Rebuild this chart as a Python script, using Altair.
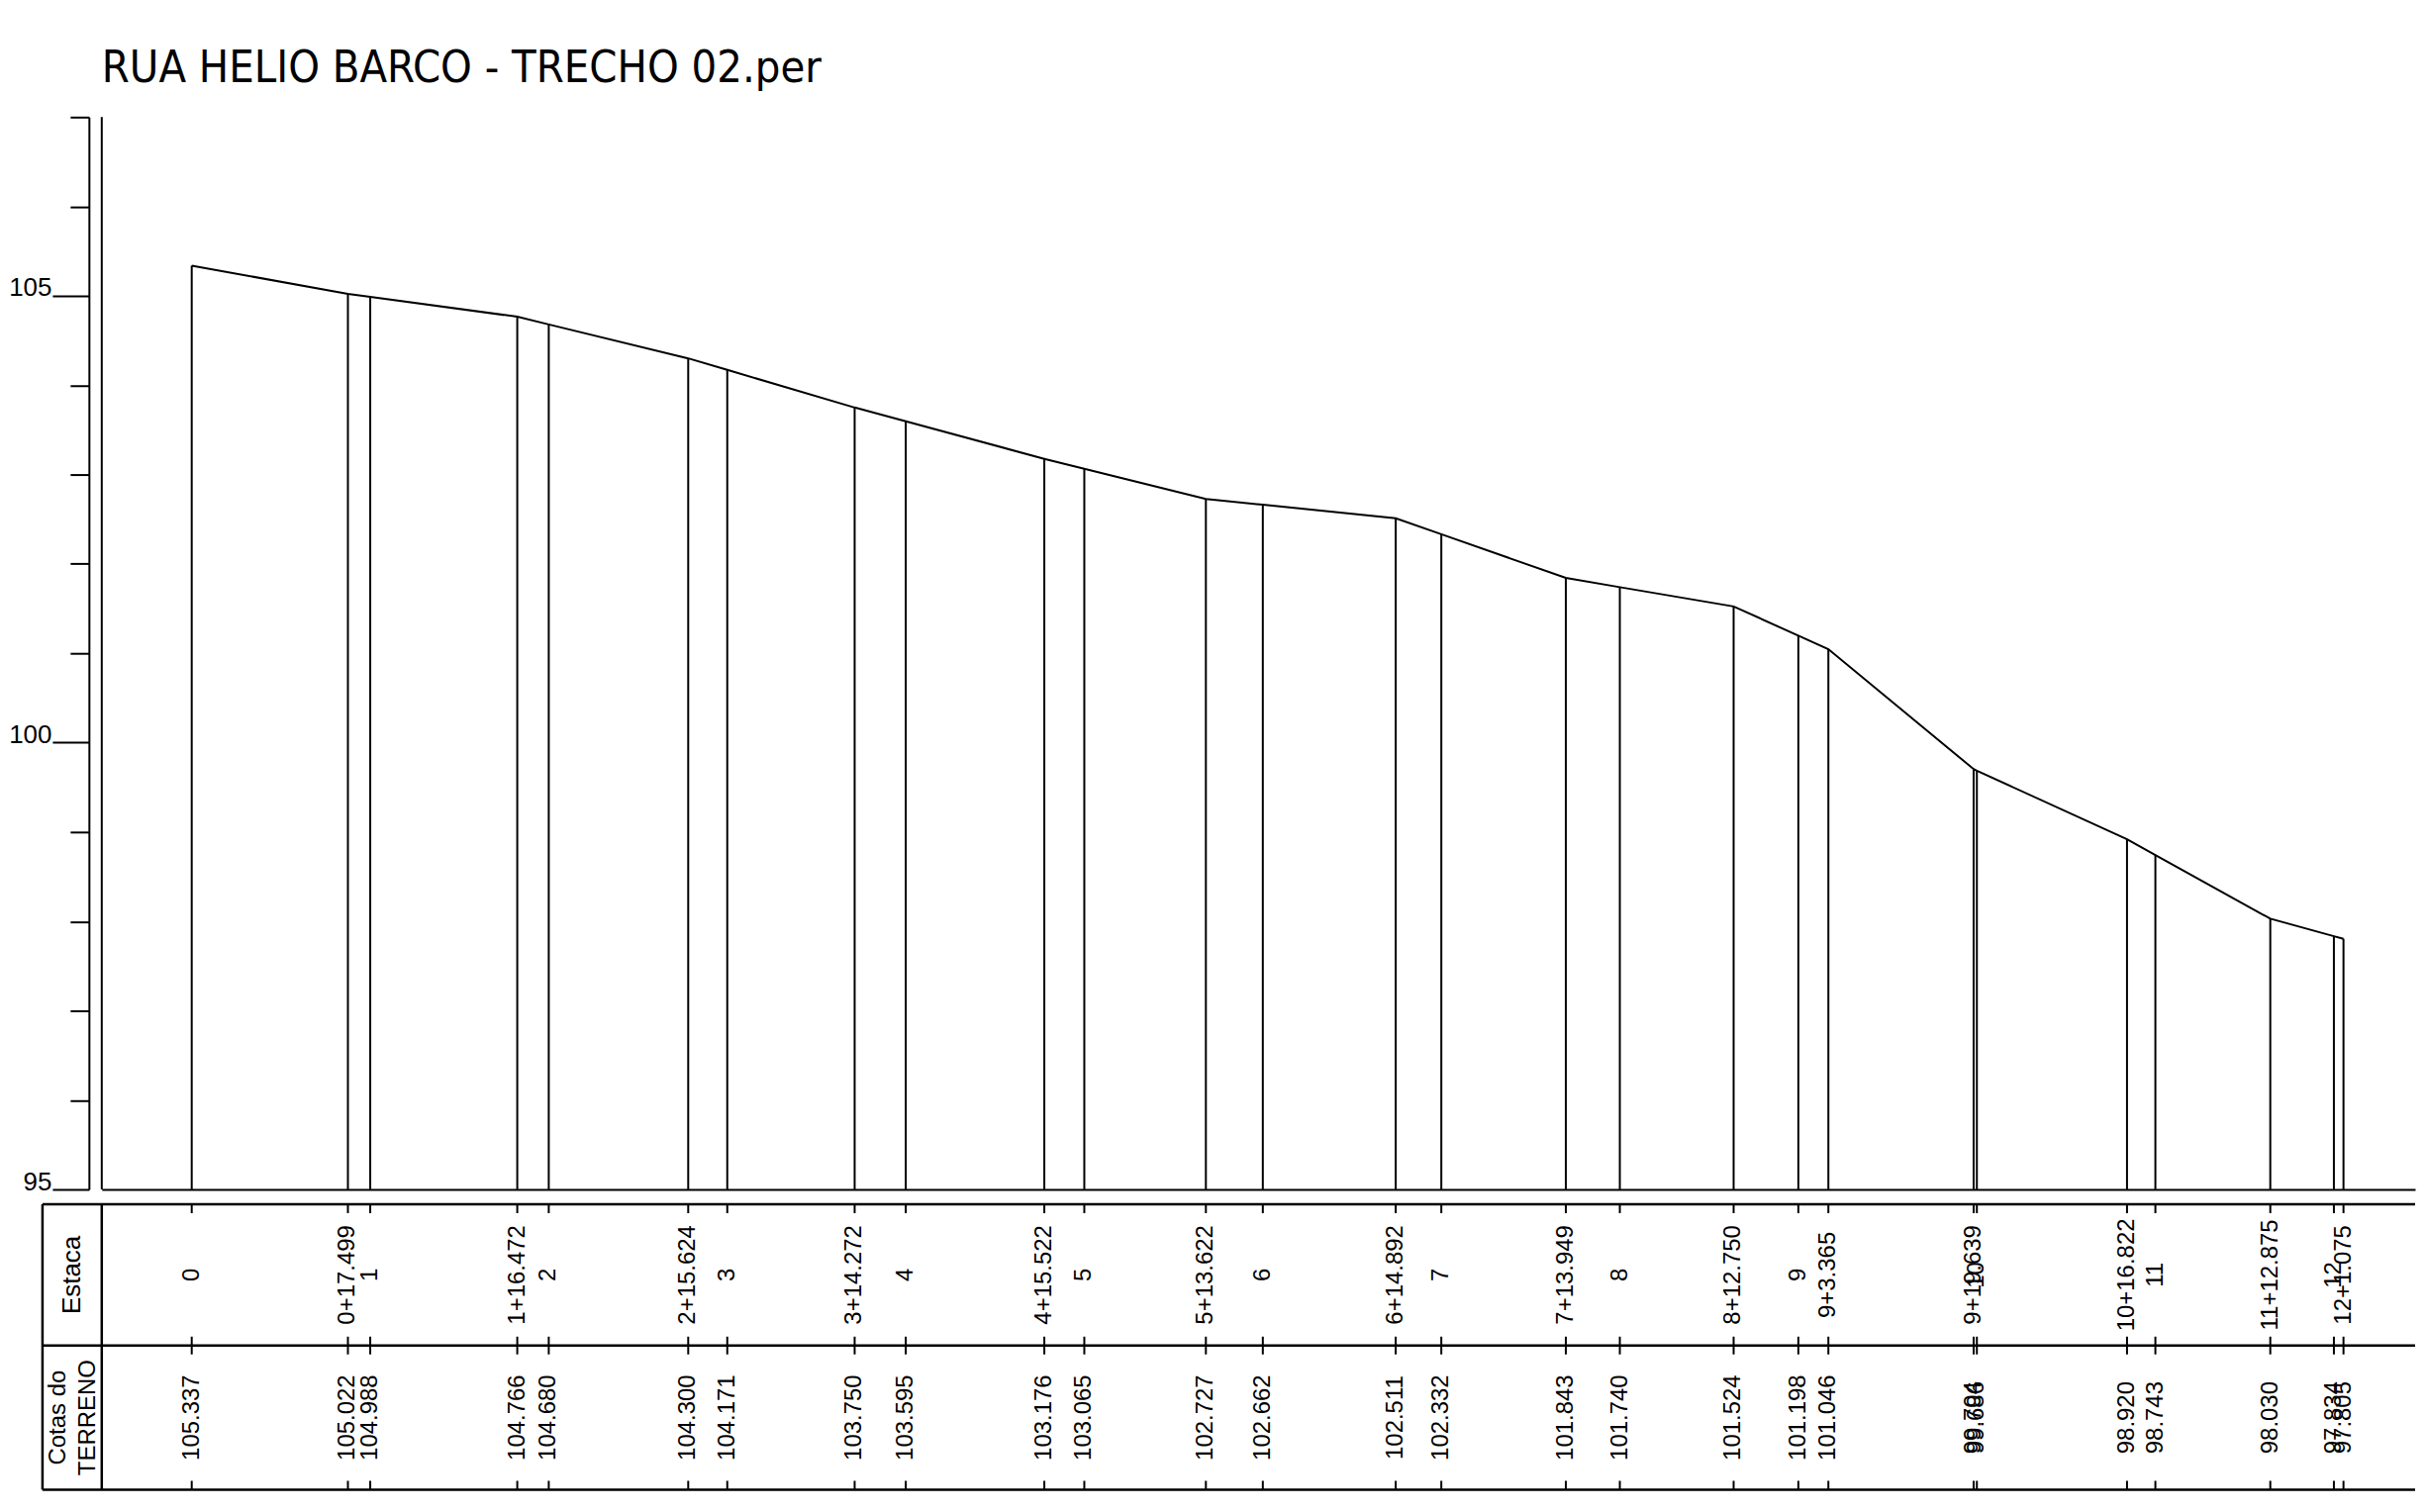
import altair as alt
import pandas as pd

# ---- data ----
estaca = ["0", "0+17.499", "1", "1+16.472", "2", "2+15.624", "3", "3+14.272", "4",
          "4+15.522", "5", "5+13.622", "6", "6+14.892", "7", "7+13.949", "8",
          "8+12.750", "9", "9+3.365", "9+19.639", "10", "10+16.822", "11",
          "11+12.875", "12", "12+1.075"]
dist = [0, 17.499, 20, 36.472, 40, 55.624, 60, 74.272, 80,
        95.522, 100, 113.622, 120, 134.892, 140, 153.949, 160,
        172.750, 180, 183.365, 199.639, 200, 216.822, 220,
        232.875, 240, 241.075]
cota = [105.337, 105.022, 104.988, 104.766, 104.680, 104.300, 104.171, 103.750, 103.595,
        103.176, 103.065, 102.727, 102.662, 102.511, 102.332, 101.843, 101.740,
        101.524, 101.198, 101.046, 99.704, 99.686, 98.920, 98.743,
        98.030, 97.834, 97.805]
y_ticks = list(range(95, 108))
title_text = "RUA HELIO BARCO - TRECHO 02.per"
row_headers = ["Estaca", ["Cotas do", "TERRENO"]]

df = pd.DataFrame({
    "dist": dist,
    "cota": cota,
    "estaca": estaca,
    "cota_txt": [f"{v:.3f}" for v in cota],
})

W, H = 2342, 1086
TITLE_FONT = "DejaVu Sans Condensed, Liberation Sans, sans-serif"
TXT = "Liberation Sans, Arial, sans-serif"

# table layout (pixels relative to plot area)
T_TOP, T_MID, T_BOT = 1101, 1244, 1390
T_LEFT = -60
TICK = 9

x_enc = alt.X("dist:Q",
              scale=alt.Scale(domain=[-10.08, 249.1], nice=False, zero=False),
              axis=alt.Axis(title=None, ticks=False, labels=False, grid=False,
                            domainColor="black", domainWidth=2))
y_enc = alt.Y("cota:Q",
              scale=alt.Scale(domain=[95, 107], nice=False, zero=False),
              axis=alt.Axis(title=None, values=y_ticks, grid=False, offset=13,
                            domainColor="black", domainWidth=2,
                            tickColor="black", tickWidth=2,
                            tickSize={"condition": {"test": "datum.value % 5 === 0", "value": 37},
                                      "value": 19},
                            labelExpr="datum.value % 5 === 0 ? format(datum.value, 'd') : ''",
                            labelFont=TXT, labelFontSize=26, labelColor="black",
                            labelBaseline="alphabetic", labelAlign="right",
                            labelPadding=1, labelOverlap=False))

base = alt.Chart(df)
one = alt.Data(values=[{}])

verticals = base.mark_rule(color="black", strokeWidth=2).encode(
    x=x_enc, y=y_enc, y2=alt.datum(95))
profile = base.mark_line(color="black", strokeWidth=2).encode(x=x_enc, y=y_enc)

frame_left = alt.Chart(one).mark_rule(color="black", strokeWidth=2).encode(
    x=alt.datum(-10.08), y=alt.datum(95), y2=alt.datum(107))

hlines = [alt.Chart(one).mark_rule(color="black", strokeWidth=2.5).encode(
    x=alt.value(T_LEFT), x2=alt.value(W), y=alt.value(yy)) for yy in (T_TOP, T_MID, T_BOT)]
vlines = [alt.Chart(one).mark_rule(color="black", strokeWidth=2.5).encode(
    x=alt.value(xx), y=alt.value(T_TOP), y2=alt.value(T_BOT)) for xx in (T_LEFT, 0)]

ticks = [
    base.mark_rule(color="black", strokeWidth=2).encode(x=x_enc, y=alt.value(a), y2=alt.value(b))
    for a, b in ((T_TOP, T_TOP + TICK), (T_MID - TICK, T_MID + TICK), (T_BOT - TICK, T_BOT))
]

row1_c = (T_TOP + T_MID) / 2
row2_c = (T_MID + T_BOT) / 2

lab_est = base.mark_text(angle=270, align="center", baseline="middle", font=TXT,
                         fontSize=24, color="black").encode(
    x=x_enc, y=alt.value(row1_c), text="estaca:N")
lab_cota = base.mark_text(angle=270, align="center", baseline="middle", font=TXT,
                          fontSize=24, color="black").encode(
    x=x_enc, y=alt.value(row2_c), text="cota_txt:N")

head1 = alt.Chart(one).mark_text(angle=270, align="center", baseline="middle", font=TXT,
                                 fontSize=26, color="black").encode(
    x=alt.value(-30), y=alt.value(row1_c), text=alt.value(row_headers[0]))
head2 = alt.Chart(one).mark_text(angle=270, align="center", baseline="middle", font=TXT,
                                 fontSize=24, lineHeight=30, color="black").encode(
    x=alt.value(-44), y=alt.value(row2_c), text=alt.value(row_headers[1]))

chart = alt.layer(
    verticals, profile, frame_left, *hlines, *vlines, *ticks, lab_est, lab_cota, head1, head2
).properties(
    width=W, height=H,
    title=alt.TitleParams(title_text, anchor="start", frame="group", font=TITLE_FONT,
                          fontSize=45, fontWeight="normal", color="black", offset=5),
    padding={"top": 38, "left": 0, "right": 0, "bottom": 0},
).configure(background="white").configure_view(stroke=None)

chart.save("out.html", embed_options={"renderer": "svg", "actions": False})
